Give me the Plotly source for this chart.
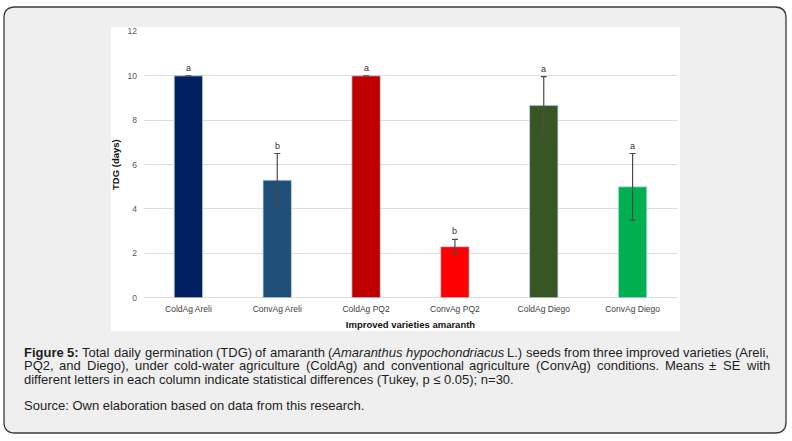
import re
import plotly.graph_objects as go

# Data
categories = ["ColdAg Areli", "ConvAg Areli", "ColdAg PQ2", "ConvAg PQ2", "ColdAg Diego", "ConvAg Diego"]
means = [10.0, 5.3, 10.0, 2.3, 8.67, 5.0]
se = [0.0, 1.2, 0.0, 0.33, 1.3, 1.5]
letters = ["a", "b", "a", "b", "a", "a"]
colors = ["#002060", "#1F4E79", "#C00000", "#FF0000", "#375623", "#00B050"]

caption_lines = [
    "<b>Figure 5:</b> Total daily germination (TDG) of amaranth (<i>Amaranthus hypochondriacus</i> L.) seeds from three improved varieties (Areli,",
    "PQ2, and Diego), under cold-water agriculture (ColdAg) and conventional agriculture (ConvAg) conditions. Means ± SE with",
    "different letters in each column indicate statistical differences (Tukey, p ≤ 0.05); n=30.",
]
source_line = "Source: Own elaboration based on data from this research."

W, H = 792, 441
FONT = "Liberation Sans, Arial, sans-serif"


def px(x):
    return x / W


def py(y):
    return 1 - y / H


# Arial advance widths (1/1000 em), used to justify the caption like the original
REG = dict(zip("abcdefghilmnoprstuvwy", [556, 556, 500, 556, 556, 278, 556, 556, 222, 222, 833, 556, 556, 556,
                                          333, 500, 278, 556, 500, 722, 500]))
REG.update(dict(zip("ACDEFGLMPQST", [667, 722, 722, 667, 611, 778, 556, 833, 667, 778, 667, 611])))
REG.update({"2": 556, "5": 556, "(": 333, ")": 333, ",": 278, ".": 278, ":": 278, "-": 333, "±": 584, " ": 278})
BOLD = {"F": 611, "i": 278, "g": 611, "u": 611, "r": 389, "e": 556, "5": 556, ":": 333}


def split_words(markup):
    style = ""
    words = [[]]
    for tok in re.split(r"(</?[bi]>)", markup):
        if tok in ("<b>", "<i>"):
            style = tok[1]
            continue
        if tok in ("</b>", "</i>"):
            style = ""
            continue
        for ch in tok:
            if ch == " ":
                words.append([])
            else:
                words[-1].append((ch, style))
    return [w for w in words if w]


def word_html(word):
    out, cur, buf = "", None, ""
    for ch, st in word + [("", "end")]:
        if st != cur:
            if buf:
                out += f"<{cur}>{buf}</{cur}>" if cur else buf
            cur, buf = st, ""
        buf += ch
    return out


def word_width(word, size):
    return sum((BOLD if st == "b" else REG).get(ch, 556) for ch, st in word) * size / 1000


annotations = []
text_left, text_right, fsize = 23, 768, 13
line_y = [352, 365.5, 379]
for i, line in enumerate(caption_lines):
    if i < 2:
        words = split_words(line)
        widths = [word_width(w, fsize) for w in words]
        gap = (text_right - text_left - sum(widths)) / (len(words) - 1)
        x = text_left
        for w, wd in zip(words, widths):
            annotations.append(dict(
                x=px(x), y=py(line_y[i]), xref="paper", yref="paper", xanchor="left", yanchor="middle",
                text=word_html(w), showarrow=False, borderpad=0,
                font=dict(family=FONT, size=fsize, color="#1e1e1e")))
            x += wd + gap
    else:
        annotations.append(dict(
            x=px(text_left), y=py(line_y[i]), xref="paper", yref="paper", xanchor="left", yanchor="middle",
            text=line, showarrow=False, borderpad=0, font=dict(family=FONT, size=fsize, color="#1e1e1e")))

annotations.append(dict(
    x=px(text_left), y=py(405), xref="paper", yref="paper", xanchor="left", yanchor="middle",
    text=source_line, showarrow=False, borderpad=0, font=dict(family=FONT, size=fsize, color="#1e1e1e")))

# significance letters just above each error bar
for cat, m, s, let in zip(categories, means, se, letters):
    annotations.append(dict(
        x=cat, y=m + s, xref="x", yref="y", yanchor="bottom", yshift=2, text=let, showarrow=False,
        borderpad=0, font=dict(family=FONT, size=9, color="#333333")))

# Rounded frame around the figure
x0, y0, x1, y1, r = 4, 7, 786, 433, 11
frame_path = (
    f"M {px(x0 + r)},{py(y0)} L {px(x1 - r)},{py(y0)} Q {px(x1)},{py(y0)} {px(x1)},{py(y0 + r)} "
    f"L {px(x1)},{py(y1 - r)} Q {px(x1)},{py(y1)} {px(x1 - r)},{py(y1)} "
    f"L {px(x0 + r)},{py(y1)} Q {px(x0)},{py(y1)} {px(x0)},{py(y1 - r)} "
    f"L {px(x0)},{py(y0 + r)} Q {px(x0)},{py(y0)} {px(x0 + r)},{py(y0)} Z"
)

shapes = [
    dict(type="path", path=frame_path, xref="paper", yref="paper", layer="below",
         fillcolor="#efefef", line=dict(color="#3a3a3a", width=1.3)),
    dict(type="rect", x0=px(111), x1=px(680), y0=py(331), y1=py(27), xref="paper", yref="paper",
         layer="below", fillcolor="white", line=dict(width=0)),
]

fig = go.Figure()
fig.add_trace(go.Bar(
    x=categories, y=means, width=0.32,
    marker=dict(color=colors, line=dict(color="#c5d9ee", width=0.8)),
    error_y=dict(type="data", array=se, visible=True, color="#4a4a4a", thickness=1.2, width=3),
    hoverinfo="skip",
))

fig.update_layout(
    width=W, height=H,
    margin=dict(l=0, r=0, t=0, b=0),
    paper_bgcolor="white",
    plot_bgcolor="white",
    showlegend=False,
    shapes=shapes,
    annotations=annotations,
    xaxis=dict(
        domain=[px(144), px(677)], showgrid=False, showline=False, ticks="", automargin=False,
        tickfont=dict(family=FONT, size=8.5, color="#404040"), ticklabelstandoff=5,
        title=dict(text="<b>Improved varieties amaranth</b>", standoff=8,
                   font=dict(family=FONT, size=9.5, color="#111111")),
    ),
    yaxis=dict(
        domain=[py(297.7), py(31.5)], range=[0, 12], dtick=2, showline=False, ticks="", automargin=False,
        gridcolor="#dedede", gridwidth=1, zeroline=True, zerolinecolor="#dedede", zerolinewidth=1,
        tickfont=dict(family=FONT, size=8.5, color="#595959"), ticklabelstandoff=6,
        title=dict(text="<b>TDG (days)</b>", standoff=6,
                   font=dict(family=FONT, size=9.5, color="#111111")),
    ),
)

# the page body has a default 8px margin; drop it so the 792x441 figure fills the window
fig.write_html("out.html", config={"displayModeBar": False},
               post_script="document.body.style.margin='0';")
